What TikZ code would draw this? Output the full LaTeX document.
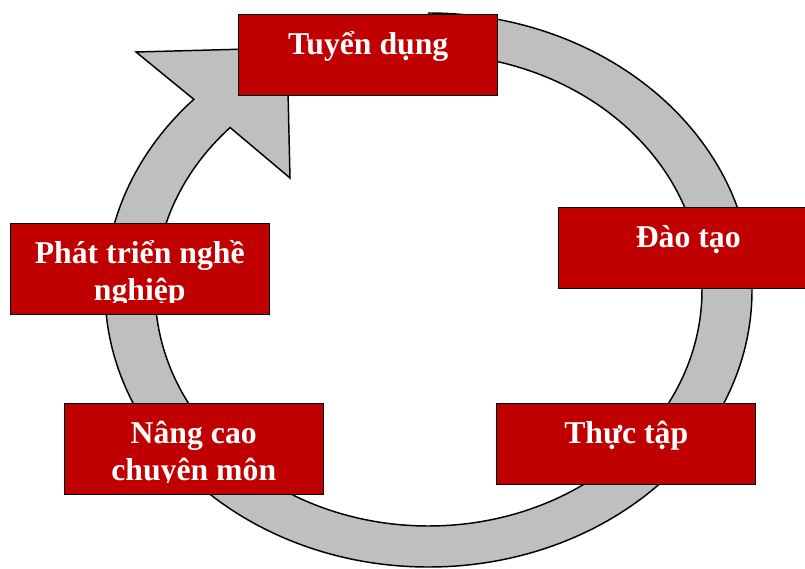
\documentclass[tikz,border=0pt]{standalone}
\usepackage{fontspec}
\setmainfont{Liberation Serif}
\usetikzlibrary{calc}
\definecolor{boxred}{RGB}{192,0,0}
\definecolor{ringgray}{RGB}{191,191,191}
\begin{document}
\begin{tikzpicture}[x=0.75pt,y=0.75pt,
  box/.style={draw=black, line width=1.1pt, fill=boxred, rectangle,
    minimum width=194.25pt, inner sep=0pt, anchor=north west},
  short/.style={minimum height=60.4pt},
  tall/.style={minimum height=67.9pt},
  lbl/.style={text=white, font=\fontsize{23.8}{27.5}\selectfont\bfseries,
    inner sep=0pt, anchor=base}]
\useasboundingbox (0,0) rectangle (805,568);

% circular arrow running clockwise, head at the upper left
\coordinate (c) at (428.5,278);
\draw[line width=1.1pt, fill=ringgray, line join=miter]
  (c) ++(90:323.5 and 277)
  arc[start angle=90, end angle=-223.5, x radius=323.5, y radius=277]
  -- (136,516) -- (287,520) -- (290,390)
  -- ($(c)+(-223.5:273.5 and 236)$)
  arc[start angle=-223.5, end angle=90, x radius=273.5, y radius=236]
  -- cycle;

% the five stages
\node[box, short, path picture={
    \clip ([yshift=8.6pt]path picture bounding box.south west) rectangle (path picture bounding box.north east);
    \node[lbl] (tuyen-a) at ($(path picture bounding box.north)+(0,-40)$) {Tuyển dụng};}]
  (tuyen) at (238,554) {};

\node[box, short, path picture={
    \clip ([yshift=8.6pt]path picture bounding box.south west) rectangle (path picture bounding box.north east);
    \node[lbl] (dao-a) at ($(path picture bounding box.north)+(0,-40)$) {Đào tạo};}]
  (dao) at (558,361) {};

\node[box, short, path picture={
    \clip ([yshift=8.6pt]path picture bounding box.south west) rectangle (path picture bounding box.north east);
    \node[lbl] (thuc-a) at ($(path picture bounding box.north)+(0,-40)$) {Thực tập};}]
  (thuc) at (496,165) {};

\node[box, tall, path picture={
    \clip ([yshift=8.6pt]path picture bounding box.south west) rectangle (path picture bounding box.north east);
    \node[lbl] (phat-a) at ($(path picture bounding box.north)+(0,-40)$) {Phát triển nghề};
    \node[lbl] (phat-b) at ($(path picture bounding box.north)+(0,-76.7)$) {nghiệp};}]
  (phat) at (9.5,345) {};

\node[box, tall, path picture={
    \clip ([yshift=8.6pt]path picture bounding box.south west) rectangle (path picture bounding box.north east);
    \node[lbl] (nang-a) at ($(path picture bounding box.north)+(0,-40)$) {Nâng cao};
    \node[lbl] (nang-b) at ($(path picture bounding box.north)+(0,-76.7)$) {chuyên môn};}]
  (nang) at (63.5,165) {};
\end{tikzpicture}
\end{document}
